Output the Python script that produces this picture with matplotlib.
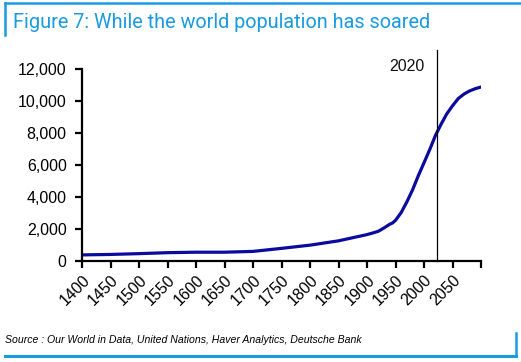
import matplotlib
matplotlib.use("Agg")
import matplotlib.pyplot as plt
from matplotlib.lines import Line2D
from matplotlib.ticker import FuncFormatter

years = [1400, 1450, 1500, 1550, 1600, 1650, 1700, 1750, 1800, 1850, 1900,
         1910, 1920, 1930, 1940, 1945, 1950, 1960, 1970, 1980, 1990, 2000,
         2010, 2020, 2030, 2040, 2050, 2060, 2070, 2080, 2090, 2100]
population = [380, 410, 460, 520, 550, 550, 600, 790, 990, 1260, 1650,
              1750, 1860, 2070, 2300, 2380, 2540, 3030, 3700, 4450, 5330, 6140,
              6960, 7840, 8550, 9200, 9700, 10150, 10430, 10630, 10770, 10875]
yticks = [0, 2000, 4000, 6000, 8000, 10000, 12000]
xticks = list(range(1400, 2101, 50))
xticklabels = [str(x) for x in range(1400, 2051, 50)] + [""]
marker_year = 2022
marker_label = "2020"
title = "Figure 7: While the world population has soared"
source = "Source : Our World in Data, United Nations, Haver Analytics, Deutsche Bank"

plt.rcParams['font.family'] = ['Liberation Sans', 'DejaVu Sans']
W, H = 521, 362
fig = plt.figure(figsize=(W/100, H/100), dpi=100)

ax = fig.add_axes([82/W, 1-261/H, (481-82)/W, (261-69)/H])
ax.plot(years, population, color='#0a0a9e', lw=2.3, solid_capstyle='round')
ax.plot([marker_year, marker_year], [0, 13200], color='black', lw=0.9, clip_on=False)
ax.text(marker_year - 21, 12130, marker_label, ha='right', va='center', fontsize=11.5, color='#111111')

ax.set_xlim(1400, 2100)
ax.set_ylim(0, 12000)
ax.set_yticks(yticks)
ax.yaxis.set_major_formatter(FuncFormatter(lambda v, p: f"{int(v):,}"))
ax.set_xticks(xticks)
ax.set_xticklabels(xticklabels, rotation=45, ha='right', rotation_mode='anchor')
for s in ['top', 'right']:
    ax.spines[s].set_visible(False)
for s in ['left', 'bottom']:
    ax.spines[s].set_linewidth(1.6)
ax.tick_params(axis='both', direction='out', width=1.6, length=5, labelsize=11.5, colors='black')
ax.tick_params(axis='y', pad=6)
ax.tick_params(axis='x', pad=3)

blue = '#1a9be0'
fig.add_artist(Line2D([5/W, 1], [1-3/H, 1-3/H], color=blue, lw=1.8, transform=fig.transFigure))
fig.add_artist(Line2D([5/W, 5/W], [1-3/H, 1-35/H], color=blue, lw=1.8, transform=fig.transFigure))
fig.add_artist(Line2D([5/W, 516/W], [1-356/H, 1-356/H], color=blue, lw=2.2, transform=fig.transFigure))
fig.add_artist(Line2D([516/W, 516/W], [1-333/H, 1-356/H], color=blue, lw=1.8, transform=fig.transFigure))

fig.text(13/W, 1-22/H, title, fontsize=14.3, color=blue, ha='left', va='center',
         family=['Roboto', 'Liberation Sans'], fontweight='normal')
fig.text(5/W, 1-340/H, source, fontsize=7.6, style='italic', color='black', ha='left', va='center')

fig.savefig('out.png', dpi=100)
